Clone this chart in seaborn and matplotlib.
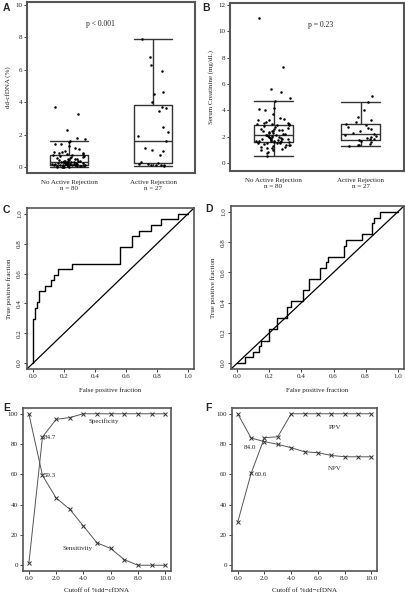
import numpy as np
import pandas as pd
import matplotlib
matplotlib.use("Agg")
import matplotlib.pyplot as plt
import seaborn as sns

# ── Data ────────────────────────────────────────────────────────────────────
GROUPS = ["No Active Rejection\nn = 80", "Active Rejection\nn = 27"]

ddcf_no_rej = [3.7, 3.25, 2.3, 1.8, 1.75, 1.6, 1.55, 1.45, 1.4, 1.3, 1.15, 1.1, 1.0,
               0.95, 0.9, 0.88, 0.85, 0.82, 0.8, 0.77,
               0.72, 0.7, 0.65, 0.62, 0.6, 0.58, 0.55, 0.52, 0.5, 0.48, 0.45, 0.43,
               0.4, 0.38, 0.36, 0.35, 0.34, 0.33, 0.32, 0.31,
               0.3, 0.29, 0.28, 0.27, 0.26, 0.25, 0.24, 0.23, 0.22, 0.21, 0.2, 0.2,
               0.19, 0.18, 0.18, 0.17, 0.17, 0.16, 0.16, 0.15,
               0.14, 0.13, 0.12, 0.12, 0.11, 0.1, 0.1, 0.09, 0.08, 0.08, 0.07, 0.06,
               0.05, 0.05, 0.04, 0.03, 0.02, 0.01, 0.0, 0.0]
ddcf_rej = [7.9, 6.8, 6.3, 5.95, 4.65, 4.5, 4.0, 3.7, 3.65, 3.45, 2.45, 2.15, 1.9, 1.6,
            1.2, 1.05, 1.0, 0.75, 0.3, 0.25, 0.2, 0.2, 0.15, 0.15, 0.1, 0.1, 0.05]

creat_no_rej = [11.0, 7.3, 5.65, 5.4, 4.95, 4.7, 4.2, 4.1, 4.05, 3.75, 3.45, 3.35, 3.3,
                3.25, 3.1, 3.0, 3.0, 2.98, 2.97, 2.96,
                2.9, 2.85, 2.8, 2.7, 2.65, 2.6, 2.55, 2.5, 2.5, 2.45, 2.4, 2.4, 2.35,
                2.3, 2.25, 2.2, 2.2, 2.15, 2.12, 2.1,
                2.08, 2.05, 2.0, 2.0, 1.95, 1.9, 1.9, 1.85, 1.85, 1.8, 1.8, 1.75, 1.75,
                1.7, 1.7, 1.68, 1.65, 1.65, 1.62, 1.6,
                1.58, 1.55, 1.55, 1.5, 1.5, 1.45, 1.4, 1.4, 1.35, 1.3, 1.25, 1.2, 1.15,
                1.1, 1.05, 1.0, 0.95, 0.85, 0.75, 0.55]
creat_rej = [1.3, 1.35, 1.4, 1.45, 1.6, 1.7, 1.75, 1.8, 1.85, 1.9, 2.0, 2.05, 2.1, 2.2,
             2.3, 2.4, 2.6, 2.65, 2.7, 2.9, 2.95, 3.1, 3.3, 3.5, 4.0, 4.6, 5.05]

N_NEG, N_POS = 80, 27
# ROC vertices as (false positives, true positives) counts
roc_c_fp = [0, 0, 1, 2, 3, 6, 9, 11, 13, 20, 45, 51, 55, 61, 66, 75, 80]
roc_c_tp = [0, 8, 10, 11, 13, 14, 15, 16, 17, 18, 21, 23, 24, 25, 26, 27, 27]
roc_d_fp = [0, 4, 8, 11, 12, 16, 20, 25, 27, 33, 36, 41, 44, 45, 53, 54, 62, 67, 68, 71, 80]
roc_d_tp = [0, 1, 2, 3, 4, 6, 8, 10, 11, 13, 15, 17, 18, 19, 21, 22, 23, 25, 26, 27, 27]

cutoffs = [0, 1, 2, 3, 4, 5, 6, 7, 8, 9, 10]
specificity = [1.3, 84.7, 96.3, 97.5, 100, 100, 100, 100, 100, 100, 100]
sensitivity = [100, 59.3, 44.4, 37.0, 25.9, 14.8, 11.1, 3.7, 0, 0, 0]
ppv = [28.5, 60.6, 84.2, 84.8, 100, 100, 100, 100, 100, 100, 100]
npv = [100, 84.0, 81.6, 79.8, 77.6, 74.9, 74.3, 72.5, 71.6, 71.6, 71.6]

# ── Style ───────────────────────────────────────────────────────────────────
sns.set_style("white")
plt.rcParams["font.family"] = ["Liberation Serif", "DejaVu Serif"]
FRAME = "#555555"
TXT = "#222222"
BOXC = "#333333"
FS = 5

W, H = 405, 596
fig = plt.figure(figsize=(W / 100, H / 100), dpi=100)


def add_ax(left, top, right, bottom):
    return fig.add_axes([left / W, 1 - bottom / H, (right - left) / W, (bottom - top) / H])


def frame(ax, lw=1.2):
    for s in ax.spines.values():
        s.set_visible(True)
        s.set_color(FRAME)
        s.set_linewidth(lw)
    ax.tick_params(labelsize=FS, colors=TXT, length=2, width=0.6, direction="out",
                   left=True, bottom=True, pad=1.5)


def letter(x, y, s):
    fig.text(x / W, 1 - y / H, s, fontsize=7.5, fontweight="bold",
             family=["Liberation Sans", "DejaVu Sans"], va="center", ha="left")


def box_panel(ax, a, b, ylim, yticks, ylabel, ptxt, pxy):
    df = pd.DataFrame({"group": [GROUPS[0]] * len(a) + [GROUPS[1]] * len(b),
                       "val": a + b})
    np.random.seed(7)
    sns.stripplot(data=df, x="group", y="val", order=GROUPS, color="black",
                  size=1.8, jitter=0.2, ax=ax, zorder=3)
    sns.boxplot(data=df, x="group", y="val", order=GROUPS, width=0.45,
                fill=False, color=BOXC, linewidth=1.0, showfliers=False,
                whis=1.5, capwidths=0.45, ax=ax)
    ax.set_ylim(*ylim)
    ax.set_xlim(-0.5, 1.5)
    ax.set_yticks(yticks)
    ax.set_xlabel("")
    ax.set_ylabel(ylabel, fontsize=FS, color=TXT, labelpad=3)
    frame(ax, 1.5)
    ax.tick_params(axis="x", length=0, pad=5)
    ax.text(pxy[0], pxy[1], ptxt, transform=ax.transAxes, fontsize=FS + 0.5,
            ha="center", color=TXT)


def roc_panel(ax, fp, tp):
    fpr = [v / N_NEG for v in fp]
    tpr = [v / N_POS for v in tp]
    sns.lineplot(x=fpr, y=tpr, estimator=None, sort=False, drawstyle="steps-post",
                 color="black", lw=1.0, ax=ax)
    ax.axline((0, 0), (1, 1), color="black", lw=0.9)
    ax.set_xlim(-0.04, 1.04)
    ax.set_ylim(-0.04, 1.04)
    ticks = [0.0, 0.2, 0.4, 0.6, 0.8, 1.0]
    ax.set_xticks(ticks)
    ax.set_yticks(ticks)
    ax.set_xticklabels([f"{t:.1f}" for t in ticks])
    ax.set_yticklabels([f"{t:.1f}" for t in ticks], rotation=90, va="center")
    ax.set_xlabel("False positive fraction", fontsize=FS, color=TXT, labelpad=6)
    ax.set_ylabel("True positive fraction", fontsize=FS, color=TXT, labelpad=4)
    frame(ax, 1.2)


def cutoff_panel(ax, s1, s2):
    for s in (s1, s2):
        sns.lineplot(x=cutoffs, y=s, color="#555555", lw=0.7, marker="x",
                     markersize=2.5, markeredgewidth=0.7, markeredgecolor="#333333",
                     ax=ax)
    ax.set_xlim(-0.43, 10.43)
    ax.set_ylim(-3.8, 103.8)
    ax.set_xticks([0, 2, 4, 6, 8, 10])
    ax.set_xticklabels(["0.0", "2.0", "4.0", "6.0", "8.0", "10.0"])
    ax.set_yticks([0, 20, 40, 60, 80, 100])
    ax.set_xlabel("Cutoff of %dd\u2212cfDNA", fontsize=FS, color=TXT, labelpad=5)
    ax.set_ylabel("")
    frame(ax, 1.2)


# ── Panels ──────────────────────────────────────────────────────────────────
axA = add_ax(27, 2, 195, 173)
box_panel(axA, ddcf_no_rej, ddcf_rej, (-0.37, 10.18), [0, 2, 4, 6, 8, 10],
          "dd-cfDNA (%)", "p < 0.001", (0.435, 0.86))

axB = add_ax(230, 3, 404, 171)
box_panel(axB, creat_no_rej, creat_rej, (-0.61, 12.15), [0, 2, 4, 6, 8, 10, 12],
          "Serum Creatinine (mg/dL)", "p = 0.23", (0.52, 0.857))

axC = add_ax(27, 208, 194, 369)
roc_panel(axC, roc_c_fp, roc_c_tp)

axD = add_ax(231, 206, 404, 369)
roc_panel(axD, roc_d_fp, roc_d_tp)

axE = add_ax(23, 408, 171, 571)
cutoff_panel(axE, specificity, sensitivity)
axE.text(5.5, 94, "Specificity", fontsize=FS, color=TXT, ha="center")
axE.text(3.6, 10, "Sensitivity", fontsize=FS, color=TXT, ha="center")
axE.text(1.12, 83.5, "84.7", fontsize=FS, color=TXT, ha="left")
axE.text(1.12, 58.3, "59.3", fontsize=FS, color=TXT, ha="left")

axF = add_ax(232, 408, 377, 571)
cutoff_panel(axF, ppv, npv)
axF.text(7.3, 90, "PPV", fontsize=FS, color=TXT, ha="center")
axF.text(7.3, 63, "NPV", fontsize=FS, color=TXT, ha="center")
axF.text(0.92, 76.8, "84.0", fontsize=FS, color=TXT, ha="center")
axF.text(1.25, 58.8, "60.6", fontsize=FS, color=TXT, ha="left")

letter(3, 8, "A")
letter(202, 8, "B")
letter(3, 210, "C")
letter(205, 209, "D")
letter(3, 408, "E")
letter(205, 408, "F")

fig.savefig("out.png", dpi=100, facecolor="white")
